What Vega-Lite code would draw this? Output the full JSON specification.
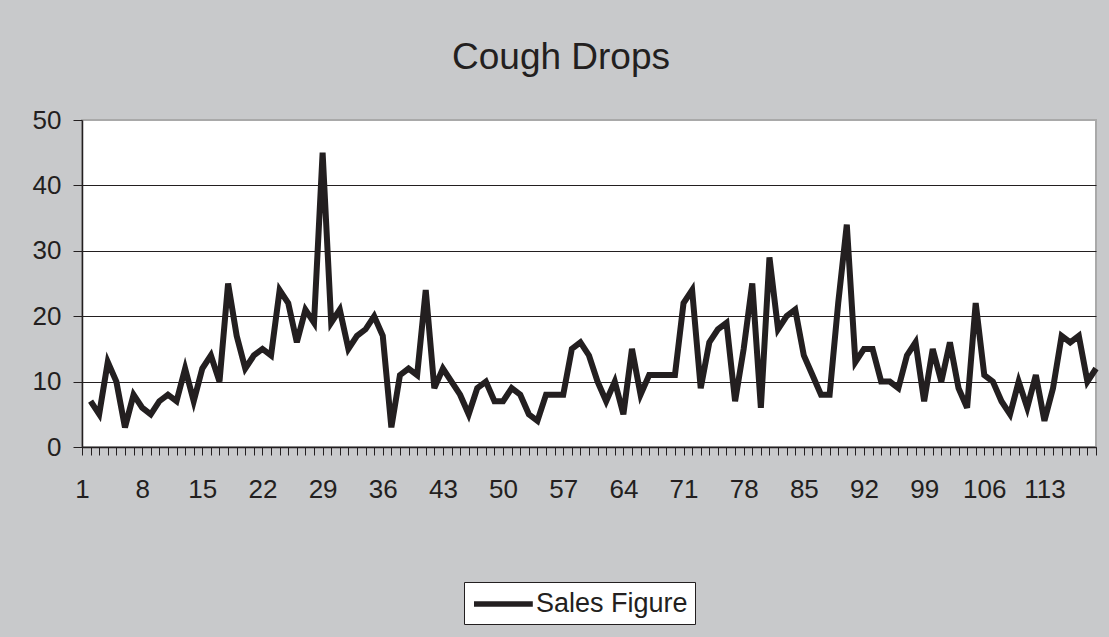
{
  "$schema": "https://vega.github.io/schema/vega-lite/v6.json",
  "autosize": {"type": "none"},
  "padding": {"left": 82, "top": 120, "right": 13, "bottom": 190},
  "width": 1014,
  "height": 327,
  "background": "#c8c9cb",
  "config": {
    "font": "Liberation Sans",
    "view": {"fill": "white", "stroke": "#a9a9a9", "strokeWidth": 2}
  },
  "title": {
    "text": "Cough Drops",
    "fontSize": 37,
    "fontWeight": "normal",
    "color": "#231f20",
    "anchor": "middle",
    "frame": "group",
    "baseline": "alphabetic",
    "dx": -28,
    "offset": 1
  },
  "data": {
    "values": [
      {"period": 2, "Sales Figure": 7}, {"period": 3, "Sales Figure": 5}, {"period": 4, "Sales Figure": 13}, {"period": 5, "Sales Figure": 10},
      {"period": 6, "Sales Figure": 3}, {"period": 7, "Sales Figure": 8}, {"period": 8, "Sales Figure": 6}, {"period": 9, "Sales Figure": 5},
      {"period": 10, "Sales Figure": 7}, {"period": 11, "Sales Figure": 8}, {"period": 12, "Sales Figure": 7}, {"period": 13, "Sales Figure": 12},
      {"period": 14, "Sales Figure": 7}, {"period": 15, "Sales Figure": 12}, {"period": 16, "Sales Figure": 14}, {"period": 17, "Sales Figure": 10},
      {"period": 18, "Sales Figure": 25}, {"period": 19, "Sales Figure": 17}, {"period": 20, "Sales Figure": 12}, {"period": 21, "Sales Figure": 14},
      {"period": 22, "Sales Figure": 15}, {"period": 23, "Sales Figure": 14}, {"period": 24, "Sales Figure": 24}, {"period": 25, "Sales Figure": 22},
      {"period": 26, "Sales Figure": 16}, {"period": 27, "Sales Figure": 21}, {"period": 28, "Sales Figure": 19}, {"period": 29, "Sales Figure": 45},
      {"period": 30, "Sales Figure": 19}, {"period": 31, "Sales Figure": 21}, {"period": 32, "Sales Figure": 15}, {"period": 33, "Sales Figure": 17},
      {"period": 34, "Sales Figure": 18}, {"period": 35, "Sales Figure": 20}, {"period": 36, "Sales Figure": 17}, {"period": 37, "Sales Figure": 3},
      {"period": 38, "Sales Figure": 11}, {"period": 39, "Sales Figure": 12}, {"period": 40, "Sales Figure": 11}, {"period": 41, "Sales Figure": 24},
      {"period": 42, "Sales Figure": 9}, {"period": 43, "Sales Figure": 12}, {"period": 44, "Sales Figure": 10}, {"period": 45, "Sales Figure": 8},
      {"period": 46, "Sales Figure": 5}, {"period": 47, "Sales Figure": 9}, {"period": 48, "Sales Figure": 10}, {"period": 49, "Sales Figure": 7},
      {"period": 50, "Sales Figure": 7}, {"period": 51, "Sales Figure": 9}, {"period": 52, "Sales Figure": 8}, {"period": 53, "Sales Figure": 5},
      {"period": 54, "Sales Figure": 4}, {"period": 55, "Sales Figure": 8}, {"period": 56, "Sales Figure": 8}, {"period": 57, "Sales Figure": 8},
      {"period": 58, "Sales Figure": 15}, {"period": 59, "Sales Figure": 16}, {"period": 60, "Sales Figure": 14}, {"period": 61, "Sales Figure": 10},
      {"period": 62, "Sales Figure": 7}, {"period": 63, "Sales Figure": 10}, {"period": 64, "Sales Figure": 5}, {"period": 65, "Sales Figure": 15},
      {"period": 66, "Sales Figure": 8}, {"period": 67, "Sales Figure": 11}, {"period": 68, "Sales Figure": 11}, {"period": 69, "Sales Figure": 11},
      {"period": 70, "Sales Figure": 11}, {"period": 71, "Sales Figure": 22}, {"period": 72, "Sales Figure": 24}, {"period": 73, "Sales Figure": 9},
      {"period": 74, "Sales Figure": 16}, {"period": 75, "Sales Figure": 18}, {"period": 76, "Sales Figure": 19}, {"period": 77, "Sales Figure": 7},
      {"period": 78, "Sales Figure": 15}, {"period": 79, "Sales Figure": 25}, {"period": 80, "Sales Figure": 6}, {"period": 81, "Sales Figure": 29},
      {"period": 82, "Sales Figure": 18}, {"period": 83, "Sales Figure": 20}, {"period": 84, "Sales Figure": 21}, {"period": 85, "Sales Figure": 14},
      {"period": 86, "Sales Figure": 11}, {"period": 87, "Sales Figure": 8}, {"period": 88, "Sales Figure": 8}, {"period": 89, "Sales Figure": 22},
      {"period": 90, "Sales Figure": 34}, {"period": 91, "Sales Figure": 13}, {"period": 92, "Sales Figure": 15}, {"period": 93, "Sales Figure": 15},
      {"period": 94, "Sales Figure": 10}, {"period": 95, "Sales Figure": 10}, {"period": 96, "Sales Figure": 9}, {"period": 97, "Sales Figure": 14},
      {"period": 98, "Sales Figure": 16}, {"period": 99, "Sales Figure": 7}, {"period": 100, "Sales Figure": 15}, {"period": 101, "Sales Figure": 10},
      {"period": 102, "Sales Figure": 16}, {"period": 103, "Sales Figure": 9}, {"period": 104, "Sales Figure": 6}, {"period": 105, "Sales Figure": 22},
      {"period": 106, "Sales Figure": 11}, {"period": 107, "Sales Figure": 10}, {"period": 108, "Sales Figure": 7}, {"period": 109, "Sales Figure": 5},
      {"period": 110, "Sales Figure": 10}, {"period": 111, "Sales Figure": 6}, {"period": 112, "Sales Figure": 11}, {"period": 113, "Sales Figure": 4},
      {"period": 114, "Sales Figure": 9}, {"period": 115, "Sales Figure": 17}, {"period": 116, "Sales Figure": 16}, {"period": 117, "Sales Figure": 17},
      {"period": 118, "Sales Figure": 10}, {"period": 119, "Sales Figure": 12}
    ]
  },
  "transform": [
    {"fold": ["Sales Figure"], "as": ["series", "sales"]}
  ],
  "mark": {
    "type": "line",
    "strokeWidth": 6,
    "strokeJoin": "miter",
    "strokeMiterLimit": 4,
    "strokeCap": "butt"
  },
  "encoding": {
    "x": {
      "field": "period",
      "type": "quantitative",
      "scale": {"domain": [1, 119], "nice": false, "zero": false},
      "axis": {
        "title": null,
        "grid": false,
        "values": [1,2,3,4,5,6,7,8,9,10,11,12,13,14,15,16,17,18,19,20,21,22,23,24,25,26,27,28,29,30,31,32,33,34,35,36,37,38,39,40,41,42,43,44,45,46,47,48,49,50,51,52,53,54,55,56,57,58,59,60,61,62,63,64,65,66,67,68,69,70,71,72,73,74,75,76,77,78,79,80,81,82,83,84,85,86,87,88,89,90,91,92,93,94,95,96,97,98,99,100,101,102,103,104,105,106,107,108,109,110,111,112,113,114,115,116,117,118,119],
        "labelExpr": "(datum.value - 1) % 7 === 0 && datum.value <= 113 ? datum.label : ''",
        "labelFontSize": 26,
        "labelColor": "#231f20",
        "labelPadding": 21,
        "labelOverlap": false,
        "labelFlush": false,
        "tickSize": 8,
        "tickColor": "#231f20",
        "tickWidth": 1,
        "domainColor": "#231f20",
        "domainWidth": 1.5
      }
    },
    "y": {
      "field": "sales",
      "type": "quantitative",
      "scale": {"domain": [0, 50], "nice": false},
      "axis": {
        "title": null,
        "values": [0, 10, 20, 30, 40, 50],
        "labelFontSize": 26,
        "labelColor": "#231f20",
        "labelPadding": 12,
        "tickSize": 9,
        "tickColor": "#231f20",
        "domainColor": "#231f20",
        "domainWidth": 1.5,
        "grid": true,
        "gridColor": {"condition": {"test": "datum.value === 50", "value": "#a9a9a9"}, "value": "#231f20"},
        "gridWidth": 1,
        "gridOpacity": 1
      }
    },
    "stroke": {
      "field": "series",
      "type": "nominal",
      "scale": {"range": ["#231f20"]},
      "legend": {
        "title": null,
        "orient": "none",
        "legendX": 382,
        "legendY": 462,
        "fillColor": "white",
        "strokeColor": "#231f20",
        "padding": 7,
        "symbolType": "M-1,0H3.9",
        "symbolSize": 576,
        "symbolStrokeWidth": 5.5,
        "labelFontSize": 27,
        "labelColor": "#231f20",
        "labelOffset": 35,
        "labelLimit": 400
      }
    }
  }
}
